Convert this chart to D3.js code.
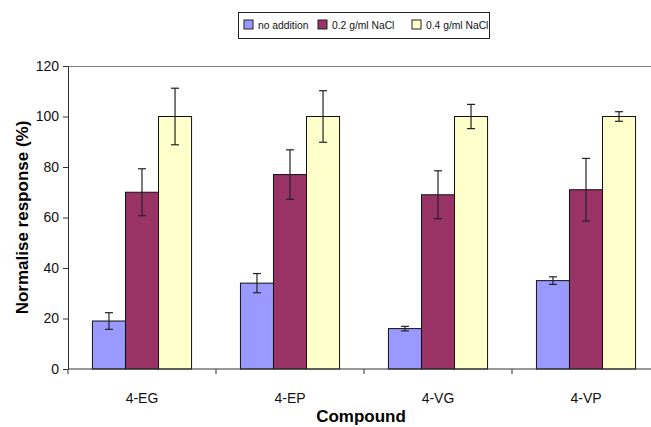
<!DOCTYPE html>
<html>
<head>
<meta charset="utf-8">
<script src="https://cdn.jsdelivr.net/npm/d3@7"></script>
<style>
  body { margin: 0; background: #fff; }
  svg { display: block; font-family: Arial, "Liberation Sans", sans-serif; }
</style>
</head>
<body>
<svg id="chart" width="651" height="427"></svg>
<script>
const compounds = ["4-EG", "4-EP", "4-VG", "4-VP"];
const seriesNames = ["no addition", "0.2 g/ml NaCl", "0.4 g/ml NaCl"];
const noAddition = [19, 34, 16, 35];
const noAdditionErr = [3.3, 3.8, 0.9, 1.5];
const salt02 = [70, 77, 69, 71];
const salt02Err = [9.3, 9.8, 9.5, 12.4];
const salt04 = [100, 100, 100, 100];
const salt04Err = [11.2, 10.2, 4.8, 1.9];
const yTicks = [0, 20, 40, 60, 80, 100, 120];

const colors = ["#9999ff", "#993366", "#ffffcc"];

const svg = d3.select("#chart");
const margin = {top: 66, left: 68, bottom: 58},
    plotW = 592,
    plotH = 427 - margin.top - margin.bottom;

const values = [noAddition, salt02, salt04];
const errs = [noAdditionErr, salt02Err, salt04Err];
const rows = [];
compounds.forEach((c, i) => {
    seriesNames.forEach((s, j) => {
        rows.push({compound: c, series: s, idx: j, v: values[j][i], e: errs[j][i]});
    });
});

const x = d3.scaleBand().domain(compounds).range([0, plotW]).paddingInner(0).paddingOuter(0);
const inner = d3.scaleBand().domain(seriesNames).range([0, x.bandwidth()]).paddingInner(0).paddingOuter(0.74);
const y = d3.scaleLinear().domain([0, 120]).range([plotH, 0]);

const g = svg.append("g").attr("transform", `translate(${margin.left},${margin.top})`);

// plot border top
g.append("line")
    .attr("x1", 0).attr("x2", plotW)
    .attr("y1", 0.5).attr("y2", 0.5)
    .attr("stroke", "#808080");

const bars = g.append("g");
bars.selectAll("rect")
    .data(rows)
    .join("rect")
    .attr("x", d => x(d.compound) + inner(d.series))
    .attr("y", d => y(d.v))
    .attr("width", inner.bandwidth())
    .attr("height", d => y(0) - y(d.v))
    .attr("fill", d => colors[d.idx])
    .attr("stroke", "#111")
    .attr("stroke-width", 1);

const eb = g.append("g").attr("stroke", "#222").attr("stroke-width", 1.2);
rows.forEach(d => {
    const cx = x(d.compound) + inner(d.series) + inner.bandwidth() / 2;
    eb.append("line").attr("x1", cx).attr("x2", cx).attr("y1", y(d.v + d.e)).attr("y2", y(d.v - d.e));
    eb.append("line").attr("x1", cx - 4).attr("x2", cx + 4).attr("y1", y(d.v + d.e)).attr("y2", y(d.v + d.e));
    eb.append("line").attr("x1", cx - 4).attr("x2", cx + 4).attr("y1", y(d.v - d.e)).attr("y2", y(d.v - d.e));
});

const yAxis = g.append("g")
    .call(d3.axisLeft(y).tickValues(yTicks).tickSize(5).tickPadding(4));
yAxis.select(".domain").attr("stroke", "#333");
yAxis.selectAll(".tick line").attr("stroke", "#333");
yAxis.selectAll("text").style("font-size", "14px").attr("fill", "#111");

const xAxis = g.append("g")
    .attr("transform", `translate(0,${plotH})`);
xAxis.append("line")
    .attr("x1", 0).attr("x2", plotW)
    .attr("stroke", "#333");
xAxis.selectAll(".xt")
    .data(compounds)
    .join("line")
    .attr("class", "xt")
    .attr("x1", d => x(d)).attr("x2", d => x(d))
    .attr("y1", 0).attr("y2", 5)
    .attr("stroke", "#333");
xAxis.selectAll("text")
    .data(compounds)
    .join("text")
    .attr("x", d => x(d) + x.bandwidth() / 2)
    .attr("y", 34)
    .attr("text-anchor", "middle")
    .style("font-size", "14px")
    .attr("fill", "#111")
    .text(d => d);

svg.append("text")
    .attr("x", margin.left + plotW / 2 - 3)
    .attr("y", 422)
    .attr("text-anchor", "middle")
    .style("font-size", "17px")
    .style("font-weight", "bold")
    .text("Compound");

svg.append("text")
    .attr("transform", `translate(28,${margin.top + plotH / 2}) rotate(-90)`)
    .attr("text-anchor", "middle")
    .style("font-size", "17px")
    .style("font-weight", "bold")
    .text("Normalise response (%)");

// legend
const legend = svg.append("g").attr("transform", "translate(238,12)");
legend.append("rect")
    .attr("x", 0.5).attr("y", 0.5)
    .attr("width", 251).attr("height", 26)
    .attr("fill", "#fff")
    .attr("stroke", "#222");
const legendX = [6, 80, 174];
const item = legend.selectAll(".item")
    .data(seriesNames)
    .join("g")
    .attr("class", "item")
    .attr("transform", (d, i) => `translate(${legendX[i]},8)`);
item.append("rect")
    .attr("width", 9).attr("height", 9)
    .attr("fill", (d, i) => colors[i])
    .attr("stroke", "#222");
item.append("text")
    .attr("x", 14).attr("y", 9)
    .style("font-size", "10.3px")
    .attr("fill", "#111")
    .text(d => d);
</script>
</body>
</html>
